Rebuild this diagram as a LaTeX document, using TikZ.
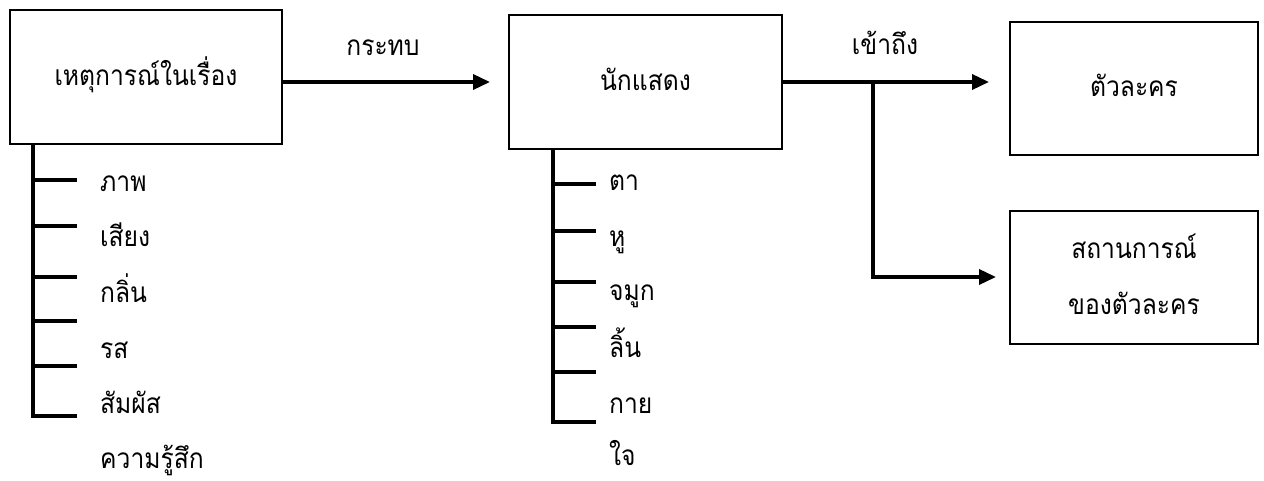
\documentclass[tikz,border=0pt]{standalone}
\usepackage{fontspec}
\newfontfamily\thaifont[Script=Thai,FakeStretch=0.88]{Loma}
\usetikzlibrary{arrows.meta}
\begin{document}
\begin{tikzpicture}[x=1pt,y=-1pt,
  thai/.style={font=\thaifont\fontsize{28pt}{56pt}\selectfont},
  box/.style={thai,draw=black,line width=2.2pt,minimum height=134pt,
    inner sep=0pt,align=center,text height=17pt,text depth=0pt},
  conn/.style={line width=3.5pt,-{Triangle[length=17pt,width=15pt]}},
  tree/.style={line width=3.6pt},
  item/.style={thai,anchor=base west,inner sep=0pt},
  tag/.style={thai,anchor=base,inner sep=0pt}]
\useasboundingbox (0,0) rectangle (1264,481);

% main boxes
\node[box,minimum width=272pt] (b1) at (146,77) {เหตุการณ์ในเรื่อง};
\node[box,minimum width=273pt] (b2) at (645.5,82) {นักแสดง};
\node[box,minimum width=248pt,minimum height=133pt] (b3) at (1134,88.5) {ตัวละคร};
\node[box,minimum width=248pt,minimum height=133pt,text height=73pt] (b4) at (1134,277.5) {สถานการณ์\\ของตัวละคร};

% connectors between the boxes
\coordinate (t1) at (490,82);
\coordinate (j) at (873,82);
\coordinate (t3) at (989,82);
\coordinate (t4) at (996,277);
\draw[conn] (b1.east |- b2) -- (t1);
\draw[conn] (b2.east) -- (t3);
\draw[conn] (j) -- (j |- t4) -- (t4);
\node[tag] (l1) at (383,56) {กระทบ};
\node[tag] (l2) at (885,55) {เข้าถึง};

% senses hanging below the first box
\coordinate (a0) at (33,144);
\draw[tree] (a0) -- (33,416) -- (77,416);
\foreach \yy in {180,226,277,321,366}
  \draw[tree] (33,\yy) -- (77,\yy);
\node[item] (i1) at (100,192) {ภาพ};
\node[item] (i2) at (100,247) {เสียง};
\node[item] (i3) at (100,302) {กลิ่น};
\node[item] (i4) at (100,358) {รส};
\node[item] (i5) at (100,413) {สัมผัส};
\node[item] (i6) at (100,468) {ความรู้สึก};

% sense organs hanging below the actor box
\coordinate (m0) at (553,149);
\draw[tree] (m0) -- (553,422) -- (596,422);
\foreach \yy in {184,231,282,327,372}
  \draw[tree] (553,\yy) -- (596,\yy);
\node[item] (o1) at (609,191) {ตา};
\node[item] (o2) at (609,247) {หู};
\node[item] (o3) at (609,301) {จมูก};
\node[item] (o4) at (609,357) {ลิ้น};
\node[item] (o5) at (609,413) {กาย};
\node[item] (o6) at (609,465) {ใจ};
\end{tikzpicture}
\end{document}
